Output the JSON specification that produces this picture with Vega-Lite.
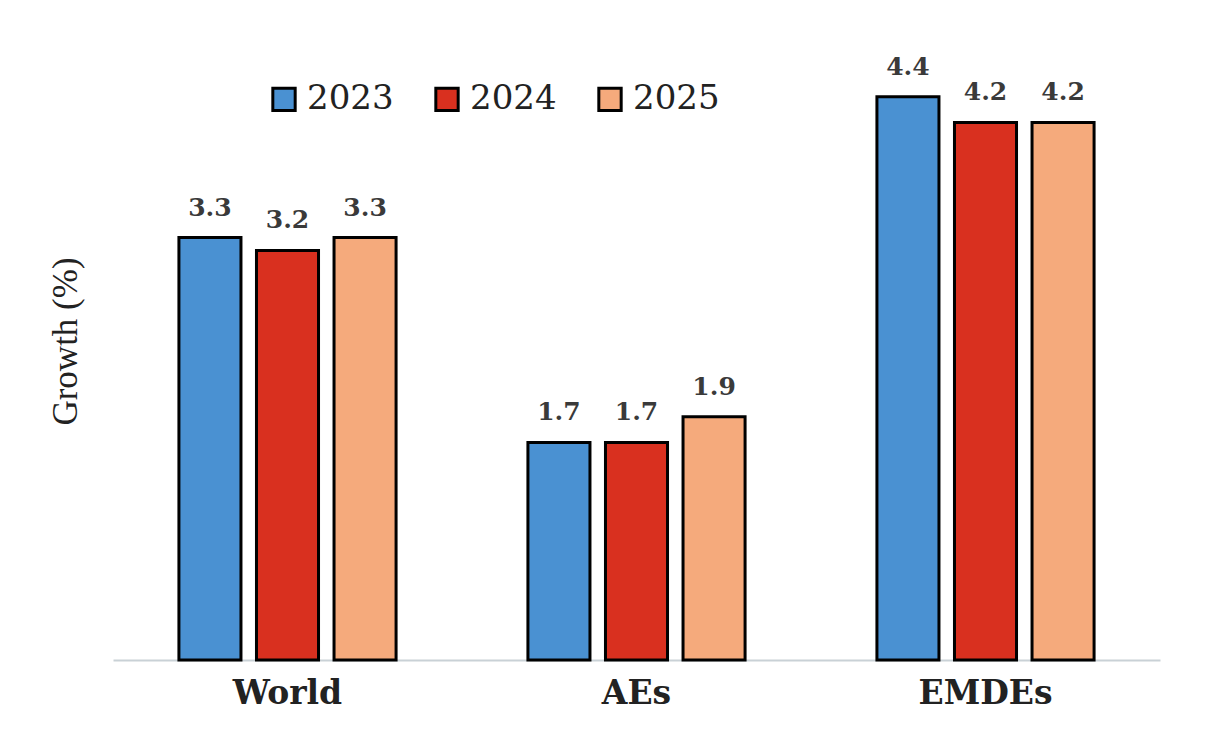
{
  "$schema": "https://vega.github.io/schema/vega-lite/v6.json",
  "width": 1047,
  "height": 600,
  "autosize": "none",
  "padding": {"left": 113, "top": 60, "right": 53, "bottom": 69},
  "background": "white",
  "config": {"view": {"stroke": null}},
  "data": {
    "values": [
      {"region": "World", "year": "2023", "growth": 3.3},
      {"region": "World", "year": "2024", "growth": 3.2},
      {"region": "World", "year": "2025", "growth": 3.3},
      {"region": "AEs", "year": "2023", "growth": 1.7},
      {"region": "AEs", "year": "2024", "growth": 1.7},
      {"region": "AEs", "year": "2025", "growth": 1.9},
      {"region": "EMDEs", "year": "2023", "growth": 4.4},
      {"region": "EMDEs", "year": "2024", "growth": 4.2},
      {"region": "EMDEs", "year": "2025", "growth": 4.2}
    ]
  },
  "encoding": {
    "x": {
      "field": "region",
      "type": "nominal",
      "sort": ["World", "AEs", "EMDEs"],
      "scale": {"paddingInner": 0, "paddingOuter": 0},
      "axis": {
        "title": null,
        "labelAngle": 0,
        "labelFont": "DejaVu Serif",
        "labelFontWeight": "bold",
        "labelFontSize": 33,
        "labelColor": "#222222",
        "labelPadding": 17,
        "ticks": false,
        "domainColor": "#c9d1d6",
        "domainWidth": 2
      }
    },
    "xOffset": {
      "field": "year",
      "type": "nominal",
      "scale": {"paddingInner": 0.2, "paddingOuter": 0.85}
    },
    "y": {
      "field": "growth",
      "type": "quantitative",
      "scale": {"domain": [0, 4.6875]},
      "axis": {
        "title": "Growth (%)",
        "titleFont": "Liberation Serif",
        "titleFontWeight": "normal",
        "titleFontSize": 35,
        "titleColor": "#222222",
        "titleAngle": -90,
        "titleAlign": "center",
        "titleBaseline": "middle",
        "titleX": -48,
        "titleY": 281,
        "labels": false,
        "ticks": false,
        "domain": false,
        "grid": false
      }
    }
  },
  "layer": [
    {
      "mark": {"type": "bar", "stroke": "#000000", "strokeWidth": 3},
      "encoding": {
        "color": {
          "field": "year",
          "type": "nominal",
          "scale": {
            "domain": ["2023", "2024", "2025"],
            "range": ["#4a91d2", "#d9301f", "#f5aa7c"]
          },
          "legend": {
            "title": null,
            "orient": "none",
            "direction": "horizontal",
            "legendX": 154,
            "legendY": 22,
            "symbolType": "square",
            "symbolSize": 500,
            "symbolStrokeColor": "#000000",
            "symbolStrokeWidth": 3,
            "symbolOpacity": 1,
            "labelFont": "DejaVu Serif",
            "labelFontSize": 34,
            "labelColor": "#222222",
            "labelOffset": 6,
            "columnPadding": 35
          }
        }
      }
    },
    {
      "mark": {
        "type": "text",
        "baseline": "bottom",
        "dy": -17,
        "font": "DejaVu Serif",
        "fontSize": 25,
        "fontWeight": "bold",
        "color": "#3a3a3a"
      },
      "encoding": {
        "text": {"field": "growth", "type": "quantitative", "format": ".1f"}
      }
    }
  ]
}
